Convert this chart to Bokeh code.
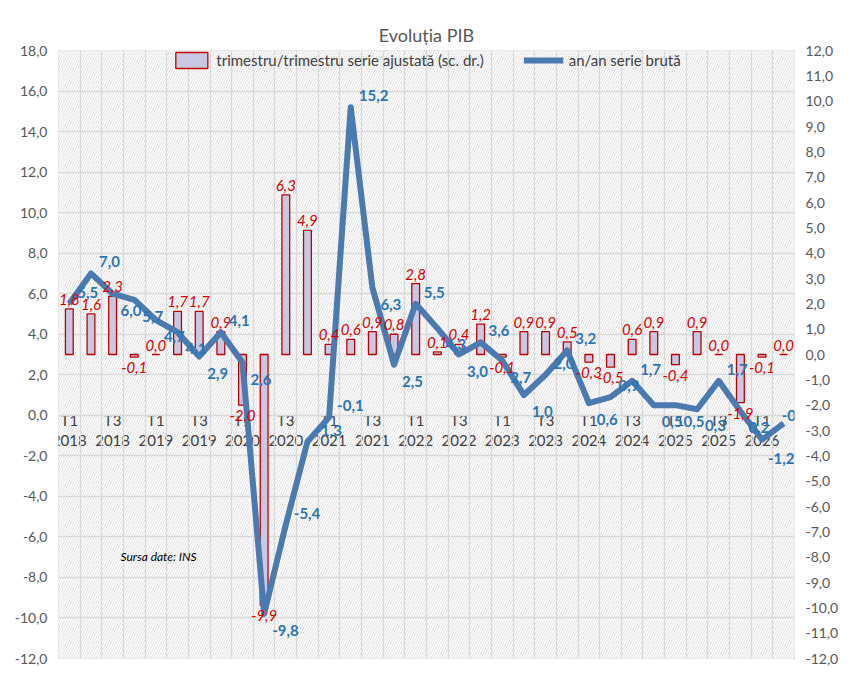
from bokeh.plotting import figure
from bokeh.models import (Range1d, LinearAxis, FixedTicker, Label, Legend, LegendItem)
from bokeh.core.properties import value
from bokeh.embed import file_html
from bokeh.resources import INLINE

quarters = [f"T{q} {y}" for y in range(2018, 2027) for q in (1, 2, 3, 4)][:34]
yoy = [5.5, 7.0, 6.0, 5.7, 4.7, 4.1, 2.9, 4.1, 2.6, -9.8, -5.4, -1.3, -0.1, 15.2, 6.3, 2.5,
       5.5, 4.3, 3.0, 3.6, 2.7, 1.0, 2.0, 3.2, 0.6, 0.9, 1.7, 0.5, 0.5, 0.3, 1.7, 0.2, -1.2, -0.4]
qoq = [1.8, 1.6, 2.3, -0.1, 0.0, 1.7, 1.7, 0.9, -2.0, -9.9, 6.3, 4.9, 0.4, 0.6, 0.9, 0.8,
       2.8, 0.1, 0.4, 1.2, -0.1, 0.9, 0.9, 0.5, -0.3, -0.5, 0.6, 0.9, -0.4, 0.9, 0.0, -1.9, -0.1, 0.0]

def fmt(v):
    return f"{v:.1f}".replace(".", ",")

FONT = "Lato"
x = list(range(len(quarters)))
p = figure(width=849, height=670, output_backend="svg", toolbar_location=None,
           x_range=Range1d(-0.5, len(x) - 0.5), y_range=Range1d(-12, 18),
           min_border_left=58, min_border_right=55, min_border_top=50, min_border_bottom=12)
p.title.text = "Evoluția PIB"
p.title.align = "center"
p.title.text_font = FONT
p.title.text_font_size = "18px"
p.title.text_font_style = "normal"
p.title.text_color = "#595959"
p.outline_line_color = "#d9d9d9"
p.background_fill_color = "white"
p.quad(left=[-1], right=[len(x)], bottom=[-13], top=[19], fill_color="white",
       hatch_pattern="right_diagonal_line", hatch_color="#d6d6d6", hatch_scale=5,
       hatch_weight=0.8, line_color=None, level="image")
p.extra_y_ranges = {"r": Range1d(-12, 12)}

lt = list(range(-12, 19, 2))
p.yaxis.ticker = FixedTicker(ticks=lt)
p.yaxis.major_label_overrides = {t: fmt(t) for t in lt}
rt = list(range(-12, 13))
ra = LinearAxis(y_range_name="r", ticker=FixedTicker(ticks=rt),
                major_label_overrides={t: fmt(t) for t in rt})
p.add_layout(ra, "right")
p.xaxis.visible = False
for ax in [p.yaxis[0], ra]:
    ax.axis_line_color = None
    ax.major_tick_line_color = None
    ax.minor_tick_line_color = None
    ax.major_label_text_font = FONT
    ax.major_label_text_font_size = "14px"
    ax.major_label_text_color = "#595959"
p.ygrid.ticker = FixedTicker(ticks=lt)
p.xgrid.ticker = FixedTicker(ticks=[i + 0.5 for i in range(-1, len(x))])
p.grid.grid_line_color = "#d9d9d9"
p.grid.grid_line_width = 1.3

# category labels drawn just below the zero line
xt = list(range(0, len(x), 2))
p.text(x=xt, y=[0.0] * len(xt), text=[quarters[i].replace(" ", "\n") for i in xt],
       y_offset=-4, text_align="center", text_baseline="top", text_line_height=1.1,
       text_font=value(FONT), text_font_size="15px", text_color="#404040", level="underlay")

bars = p.vbar(x=x, top=qoq, bottom=0, width=0.36, y_range_name="r",
              fill_color="#c8c8e2", line_color="#c00000", line_width=1.3)
line = p.line(x=x, y=yoy, line_color="#4a7ab0", line_width=6, line_join="round")

bo = [-4 if v >= 0 else 16 for v in qoq]
p.text(x=x, y=qoq, text=[fmt(v) for v in qoq], y_range_name="r", y_offset=bo,
       text_align="center", text_baseline="bottom", text_font=value(FONT),
       text_font_size="15px", text_font_style="italic", text_color="#e00000")

lo, xo = [], []
for i, v in enumerate(yoy):
    prev = yoy[i - 1] if i > 0 else v - 1
    nxt = yoy[i + 1] if i < len(yoy) - 1 else v - 1
    up = v > prev
    lo.append(-6 if up else 22)
    xo.append(8)
xo[-1] = -2; lo[-1] = -2
xo[-2] = 6; lo[-2] = 24
p.text(x=x, y=yoy, text=[fmt(v) for v in yoy], x_offset=xo, y_offset=lo, text_align="left",
       text_baseline="bottom", text_font=value(FONT), text_font_size="15px",
       text_font_style="bold", text_color="#2e75b6")

p.add_layout(Label(x=62, y=95, x_units="screen", y_units="screen", text="Sursa date: INS",
                   text_font=FONT, text_font_size="12px", text_font_style="italic",
                   text_color="black"))

legend = Legend(items=[LegendItem(label="trimestru/trimestru serie ajustată (sc. dr.)", renderers=[bars]),
                       LegendItem(label="an/an serie brută", renderers=[line])],
                orientation="horizontal", location="top_center", border_line_color=None,
                background_fill_alpha=0, label_text_font=FONT, label_text_font_size="15px",
                label_text_color="#404040", spacing=40, margin=0, padding=2,
                glyph_width=40)
p.add_layout(legend)

open("out.html", "w").write(file_html(p, INLINE))
